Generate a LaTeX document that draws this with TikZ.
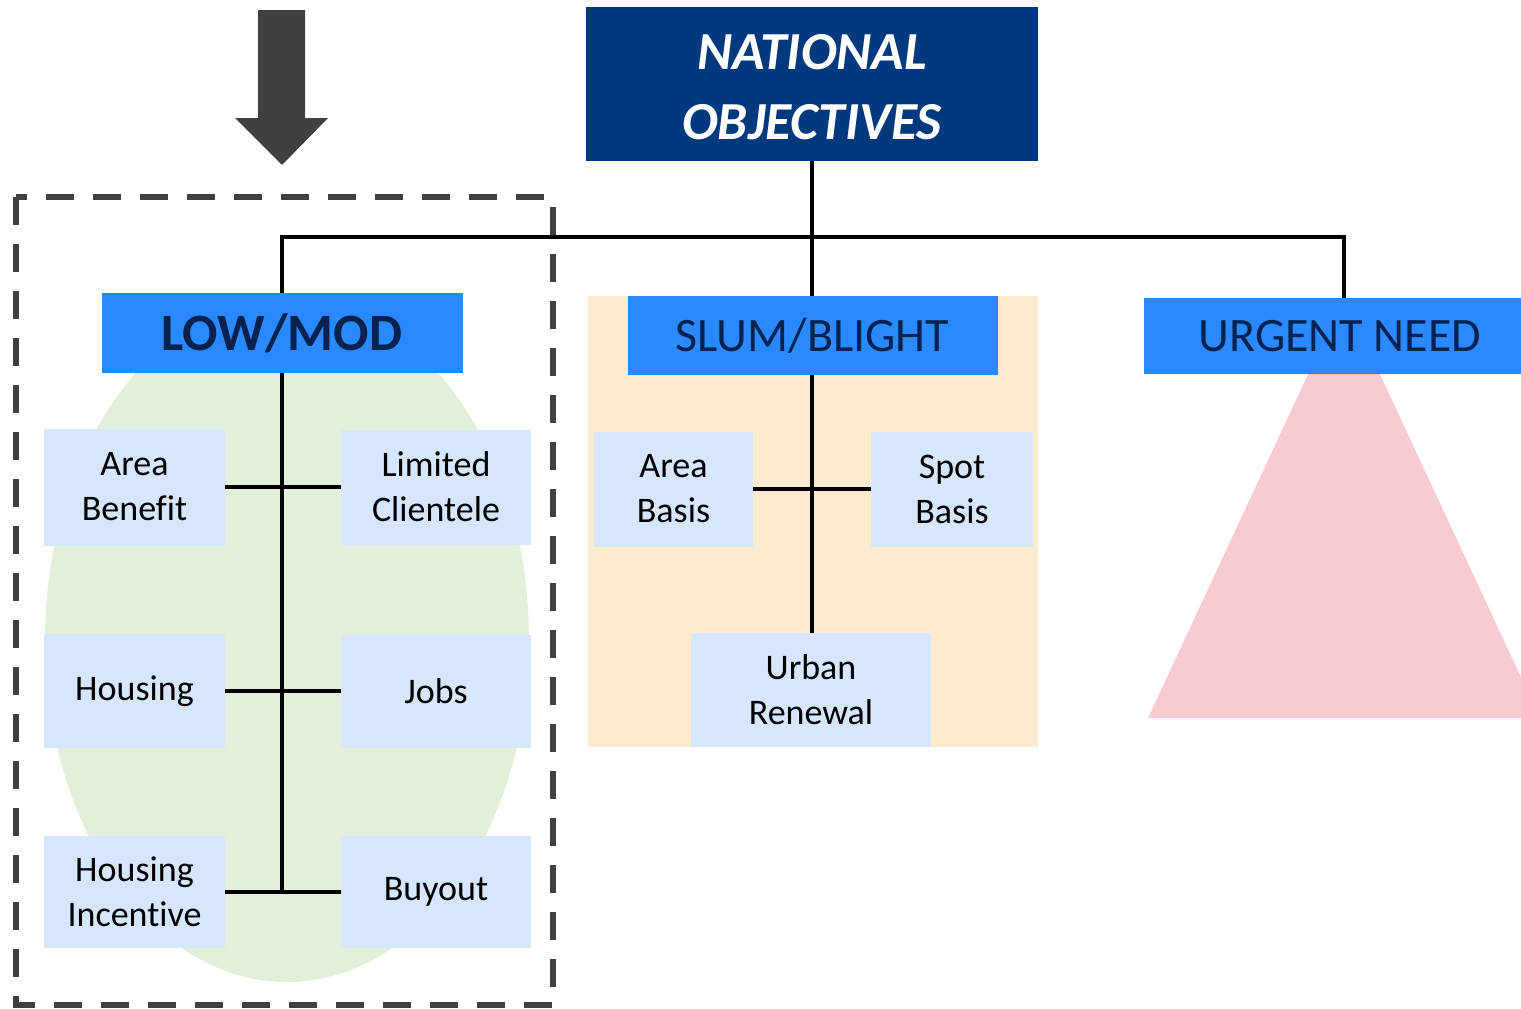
\documentclass[tikz,border=0pt]{standalone}
\usepackage{fontspec}
\setmainfont{Carlito}[Ligatures=NoCommon]
\definecolor{navy}{RGB}{0,57,125}
\definecolor{midblue}{RGB}{43,137,255}
\definecolor{titletext}{RGB}{8,34,80}
\definecolor{lightblue}{RGB}{214,230,252}
\definecolor{lightgreen}{RGB}{226,240,217}
\definecolor{beige}{RGB}{253,235,208}
\definecolor{pink}{RGB}{248,203,211}
\definecolor{darkgrey}{RGB}{64,64,64}
\begin{document}
\begin{tikzpicture}[x=1pt,y=-1pt,
  every node/.style={inner sep=0pt, outer sep=0pt},
  topbox/.style={fill=navy, text=white, align=center,
    font=\fontsize{53.5}{70}\selectfont\bfseries\itshape},
  catbox/.style={fill=midblue, text=titletext, align=center,
    font=\fontsize{48}{56}\selectfont},
  subbox/.style={fill=lightblue, text=black, align=center,
    font=\fontsize{36}{45}\selectfont},
  conn/.style={draw=black, line width=4pt}]
\useasboundingbox (0,0) rectangle (1521,1009);
\clip (0,0) rectangle (1521,1009);

% background shapes
\fill[beige] (588,296) rectangle (1038,747);
\fill[lightgreen] (287,640) ellipse [x radius=242, y radius=342];
\fill[pink] (1344,297) -- (1540,718) -- (1148,718) -- cycle;

% dashed frame
\draw[darkgrey, line width=6pt, dash pattern=on 28pt off 19pt] (16,197) rectangle (553,1005);

% big arrow
\fill[darkgrey] (258,10) -- (305,10) -- (305,118) -- (328,118) -- (282,165) -- (235,118) -- (258,118) -- cycle;

% top node
\node[topbox, minimum width=452, minimum height=154] (no) at (812,84) {};
\node[topbox] (notext) at (812,87) {NATIONAL\\OBJECTIVES};

% category nodes
\node[catbox, minimum width=361, minimum height=80, font=\fontsize{52.5}{56}\selectfont\bfseries] (lm) at (282,333) {LOW/MOD};
\node[catbox, minimum width=370, minimum height=79] (sb) at (812.5,335.5) {SLUM/BLIGHT};
\node[catbox, minimum width=400, minimum height=76] (un) at (1344,336) {};
\node[catbox, text=titletext] (untext) at (1340,336) {URGENT NEED};

% low/mod sub nodes
\node[subbox, minimum width=181, minimum height=117] (ab) at (134.5,487) {Area\\Benefit};
\node[subbox, minimum width=190, minimum height=115] (lc) at (436,487) {Limited\\Clientele};
\node[subbox, minimum width=181, minimum height=114] (ho) at (134.5,691) {Housing};
\node[subbox, minimum width=190, minimum height=113] (jo) at (436,691) {Jobs};
\node[subbox, minimum width=181, minimum height=112] (hi) at (134.5,892) {Housing\\Incentive};
\node[subbox, minimum width=190, minimum height=112] (bo) at (436,892) {Buyout};

% slum/blight sub nodes
\node[subbox, minimum width=159, minimum height=115] (ar) at (673.5,489) {Area\\Basis};
\node[subbox, minimum width=162, minimum height=115] (sp) at (952,489) {Spot\\Basis};
\node[subbox, minimum width=240, minimum height=114] (ur) at (811,690) {Urban\\Renewal};

% connectors
\coordinate (lowend) at (lm.south |- bo.west);
\draw[conn] (no.south) -- (no.south |- sb.north);
\draw[conn] (lm.north) -- ++(0,-56) -| (un.north);
\draw[conn] (lm.south) -- (lowend);
\draw[conn] (ab.east) -- (lc.west);
\draw[conn] (ho.east) -- (jo.west);
\draw[conn] (hi.east) -- (bo.west);
\draw[conn] (sb.south -| no.south) -- (ur.north -| no.south);
\draw[conn] (ar.east) -- (sp.west);
\end{tikzpicture}
\end{document}
